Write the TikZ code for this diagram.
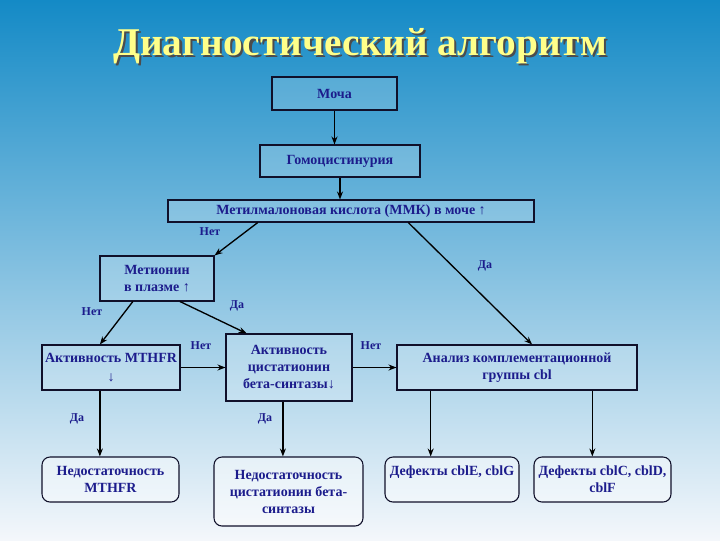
\documentclass[tikz,border=0pt]{standalone}
\usepackage{fontspec}
\setmainfont{Liberation Serif}
\usetikzlibrary{arrows.meta,calc}
\definecolor{ink}{HTML}{1C1C8C}
\definecolor{edge}{HTML}{10102A}
\definecolor{bgtop}{HTML}{148AC6}
\definecolor{bgmid}{HTML}{A4CAE6}
\definecolor{bgbot}{HTML}{F4F7FB}
\definecolor{gold}{HTML}{FFFF8A}
\newcommand{\titletext}{Диагностический алгоритм}

\begin{document}
\begin{tikzpicture}[x=0.75pt,y=-0.75pt,
  flowbox/.style={rectangle,draw=edge,line width=0.8pt,fill=white,fill opacity=0.18,text opacity=1,text=ink,align=center,font=\bfseries\fontsize{10.5}{12.75}\selectfont,inner sep=2pt},
  resbox/.style={flowbox,rounded corners=6pt,fill opacity=0.45},
  tag/.style={text=ink,font=\bfseries\fontsize{9}{11}\selectfont,inner sep=1pt},
  link/.style={-{Stealth[length=6pt,width=4.5pt]},black,line width=1pt}]
\shade[top color=bgtop,middle color=bgmid,bottom color=bgbot] (0,0) rectangle (720,540);
\useasboundingbox (0,0) rectangle (720,540);
% title with its shadow
\node[font=\bfseries\fontsize{29.5}{31}\selectfont] (title) at (360,47)
  {\makebox[0pt][l]{\hspace{1.8pt}\raisebox{-1.8pt}{\textcolor{black!70}{\titletext}}}\textcolor{gold}{\titletext}};
% upper chain
\node[flowbox,minimum width=93.75pt,minimum height=24.75pt] (urine) at (334.5,93.5) {Моча};
\node[flowbox,minimum width=120pt,minimum height=24pt] (hcu) at (340,161) {Гомоцистинурия};
\node[flowbox,minimum width=274.5pt,minimum height=16.5pt] (mma) at (351,211) {Метилмалоновая кислота (ММК) в моче ↑};
\draw[link] (urine.south) -- (urine.south |- hcu.north);
\draw[link] (hcu.south) -- (hcu.south |- mma.north);
% middle row
\node[flowbox,minimum width=85.5pt,minimum height=33.75pt] (met) at (157,278.5) {Метионин\\в плазме ↑};
\node[flowbox,minimum width=103.5pt,minimum height=33.75pt] (mthfr) at (111,367.5) {Активность MTHFR\\[2pt]↓};
\node[flowbox,minimum width=94.5pt,minimum height=50.25pt] (cbs) at (289,367.5) {Активность\\цистатионин\\бета-синтазы↓};
\node[flowbox,minimum width=180pt,minimum height=33.75pt] (cbl) at (517,367.5) {Анализ комплементационной\\группы cbl};
% bottom row
\node[resbox,minimum width=102.75pt,minimum height=33.75pt] (defm) at (110.5,479.5) {Недостаточность\\MTHFR};
\node[resbox,minimum width=111.75pt,minimum height=51.75pt] (defc) at (288.5,491.5) {Недостаточность\\цистатионин бета-\\синтазы};
\node[resbox,minimum width=100.5pt,minimum height=33.75pt] (defe) at (452,479.5) {Дефекты cblE, cblG\\\phantom{X}};
\node[resbox,minimum width=102.75pt,minimum height=33.75pt] (deff) at (602.5,479.5) {Дефекты cblC, cblD,\\cblF};
% branch points
\coordinate (mmaL) at ($(mma.south west)!0.246!(mma.south east)$);
\coordinate (mmaR) at ($(mma.south west)!0.656!(mma.south east)$);
\coordinate (cblT) at ($(cbl.north west)!0.5625!(cbl.north east)$);
\coordinate (metL) at ($(met.south west)!0.29!(met.south east)$);
\coordinate (metR) at ($(met.south west)!0.70!(met.south east)$);
\coordinate (mthT) at ($(mthfr.north west)!0.42!(mthfr.north east)$);
\coordinate (cbsT) at ($(cbs.north west)!0.167!(cbs.north east)$);
\coordinate (mthB) at ($(mthfr.south west)!0.42!(mthfr.south east)$);
\coordinate (cbsB) at ($(cbs.south west)!0.452!(cbs.south east)$);
\coordinate (cblB1) at ($(cbl.south west)!0.142!(cbl.south east)$);
\coordinate (cblB2) at ($(cbl.south west)!0.8125!(cbl.south east)$);
% connectors
\draw[link] (mmaL) -- (met.north east);
\draw[link] (mmaR) -- (cblT);
\draw[link] (metL) -- (mthT);
\draw[link] (metR) -- (cbsT);
\draw[link] (mthfr.east) -- (cbs.west);
\draw[link] (cbs.east) -- (cbl.west);
\draw[link] (mthB) -- (mthB |- defm.north);
\draw[link] (cbsB) -- (cbsB |- defc.north);
\draw[link] (cblB1) -- (cblB1 |- defe.north);
\draw[link] (cblB2) -- (cblB2 |- deff.north);
% labels
\node[tag] (n1) at (210,232) {Нет};
\node[tag] (y1) at (485,266) {Да};
\node[tag] (n2) at (92,312) {Нет};
\node[tag] (y2) at (237,306) {Да};
\node[tag] (n3) at (201,346) {Нет};
\node[tag] (n4) at (371,346) {Нет};
\node[tag] (y3) at (77,419) {Да};
\node[tag] (y4) at (265,419) {Да};
\end{tikzpicture}
\end{document}
